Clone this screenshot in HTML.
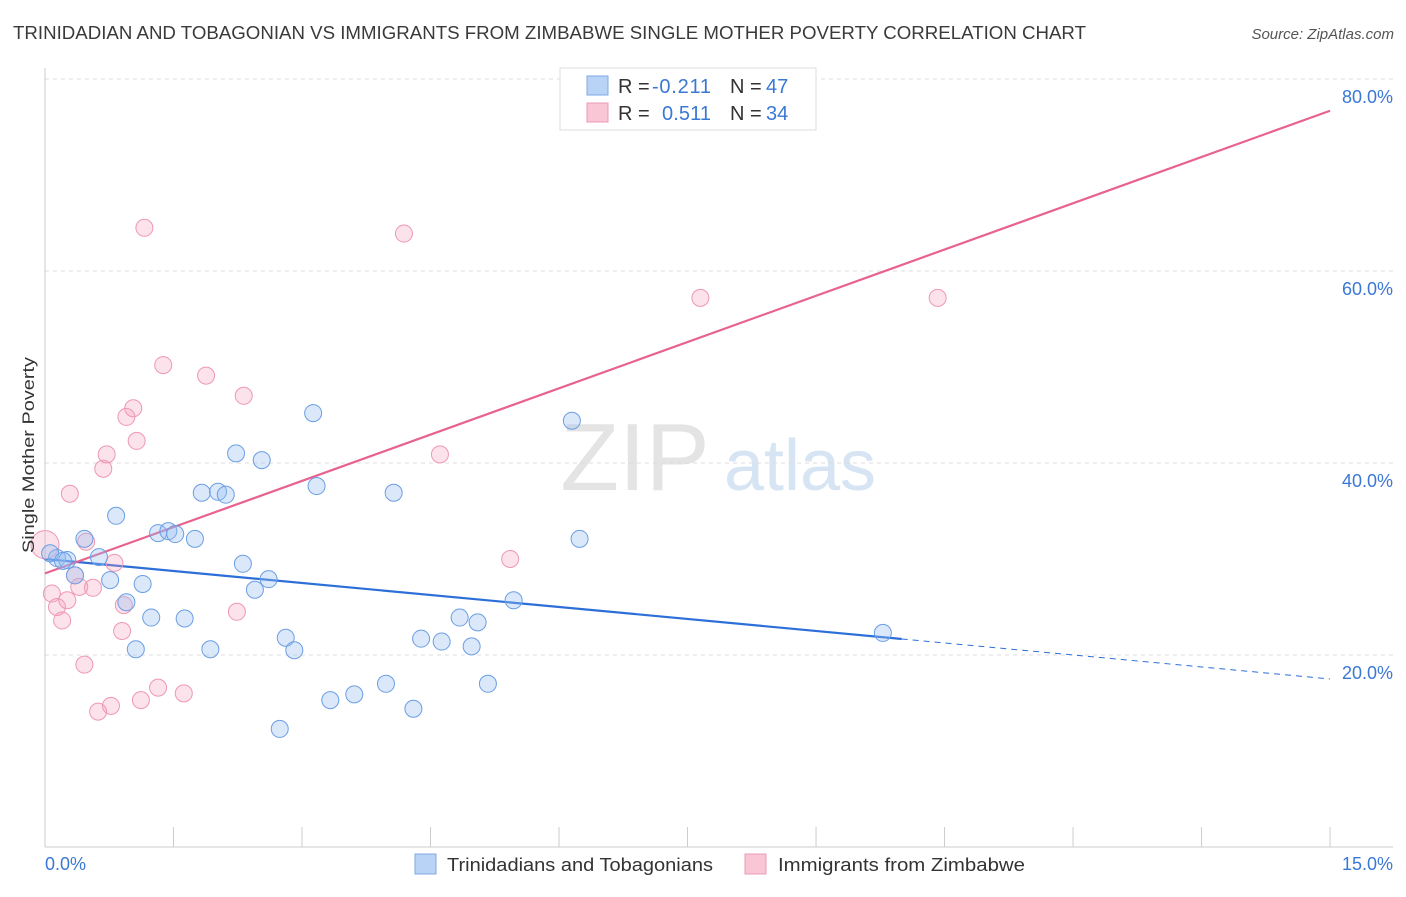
<!DOCTYPE html>
<html><head><meta charset="utf-8">
<style>
body{margin:0;background:#fff;font-family:"Liberation Sans",sans-serif;}
svg text{font-family:"Liberation Sans",sans-serif;}
</style></head>
<body>
<svg id="chart" width="1406" height="892" xmlns="http://www.w3.org/2000/svg">
<text x="13" y="39" font-size="18" fill="#3a3a3a" textLength="1073" lengthAdjust="spacingAndGlyphs">TRINIDADIAN AND TOBAGONIAN VS IMMIGRANTS FROM ZIMBABWE SINGLE MOTHER POVERTY CORRELATION CHART</text>
<text x="1394" y="39" font-size="15" fill="#555" text-anchor="end" font-style="italic">Source: ZipAtlas.com</text>
<g>
<text x="635" y="490" font-size="96" fill="#e4e4e4" text-anchor="middle" font-family="Liberation Serif,serif">ZIP</text>
<text x="800" y="490" font-size="72" fill="#d6e4f3" text-anchor="middle">atlas</text>
</g>
<g id="grid"></g><g id="axes"></g><g id="lines"></g><g id="pts"></g>
<text transform="translate(34,455) rotate(-90)" font-size="17" fill="#333" text-anchor="middle" textLength="196" lengthAdjust="spacingAndGlyphs">Single Mother Poverty</text>
<text x="45" y="870" font-size="18" fill="#3a78d6">0.0%</text>
<text x="1393" y="870" font-size="18" fill="#3a78d6" text-anchor="end">15.0%</text>
<g>
<rect x="560" y="68" width="256" height="62" fill="#fff" stroke="#ddd"/>
<rect x="587" y="76" width="21" height="19" fill="#b8d3f5" stroke="#7fa9e6"/>
<rect x="587" y="103" width="21" height="19" fill="#f8c6d5" stroke="#ee98b2"/>
<text x="618" y="93" font-size="20" fill="#333">R = </text><text x="652" y="93" font-size="20" fill="#3a78d6" textLength="59">-0.211</text>
<text x="730" y="93" font-size="20" fill="#333">N = </text><text x="766" y="93" font-size="20" fill="#3a78d6">47</text>
<text x="618" y="120" font-size="20" fill="#333">R = </text><text x="662" y="120" font-size="20" fill="#3a78d6" textLength="49">0.511</text>
<text x="730" y="120" font-size="20" fill="#333">N = </text><text x="766" y="120" font-size="20" fill="#3a78d6">34</text>
</g>
<g>
<rect x="415" y="854" width="21" height="20" fill="#b8d3f5" stroke="#7fa9e6"/>
<text x="447" y="871" font-size="18" fill="#333" textLength="266" lengthAdjust="spacingAndGlyphs">Trinidadians and Tobagonians</text>
<rect x="745" y="854" width="21" height="20" fill="#f8c6d5" stroke="#ee98b2"/>
<text x="778" y="871" font-size="18" fill="#333" textLength="247" lengthAdjust="spacingAndGlyphs">Immigrants from Zimbabwe</text>
</g>
</svg>
<script>
const yTicks=[20,40,60,80];
const yTickLabels=["20.0%","40.0%","60.0%","80.0%"];
const blueX=[0.14,0.26,0.35,0.46,0.63,0.76,0.83,0.95,1.14,1.24,1.06,1.32,1.44,1.52,1.63,1.75,1.83,1.93,2.02,2.11,2.23,2.31,2.45,2.53,2.61,2.81,2.74,2.91,3.13,3.17,3.33,3.61,3.98,4.07,4.30,4.39,4.63,4.84,4.98,5.05,5.17,5.47,6.15,6.24,9.78,0.06,0.21];
const blueY=[30.1,29.9,28.3,32.1,30.2,27.8,34.5,25.5,27.4,23.9,20.6,32.7,32.9,32.6,23.8,32.1,36.9,20.6,37.0,36.7,41.0,29.5,26.8,40.3,27.9,21.8,12.3,20.5,45.2,37.6,15.3,15.9,17.0,36.9,14.4,21.7,21.4,23.9,20.9,23.4,17.0,25.7,44.4,32.1,22.3,30.6,29.8];
const pinkX=[0,0.08,0.14,0.2,0.26,0.29,0.35,0.4,0.46,0.48,0.56,0.62,0.68,0.72,0.77,0.81,0.9,0.92,0.95,1.03,1.07,1.12,1.16,1.32,1.38,1.62,1.88,2.24,2.32,4.19,4.61,5.43,7.65,10.42];
const pinkY=[31.5,26.4,25.0,23.6,25.7,36.8,28.3,27.1,19.0,31.8,27.0,14.1,39.4,40.9,14.7,29.6,22.5,25.2,44.8,45.7,42.3,15.3,64.5,16.6,50.2,16.0,49.1,24.5,47.0,63.9,40.9,30.0,57.2,57.2];
const blueTrend=[30.0,-0.833,10.0];
const pinkTrend=[28.5,3.213];
const X=v=>45+v*85.67, Y=v=>847-v*9.6;
const NS="http://www.w3.org/2000/svg";
function mk(p,t,a){const e=document.createElementNS(NS,t);for(const k in a)e.setAttribute(k,a[k]);p.appendChild(e);return e;}
const grid=document.getElementById('grid'),axes=document.getElementById('axes'),lines=document.getElementById('lines'),pts=document.getElementById('pts');
yTicks.forEach((t,i)=>{
 const l=mk(grid,'line',{x1:45,x2:1393,y1:Y(t),y2:Y(t),stroke:'#ddd','stroke-dasharray':'4,4'});
 
 
 const tx=mk(grid,'text',{x:1393,y:Y(t)+24,'font-size':18,fill:'#3a78d6','text-anchor':'end'});
 tx.textContent=yTickLabels[i];
 
 
});
const ya=mk(axes,'line',{x1:45,x2:45,y1:68,y2:847,stroke:'#ccc'});


const xa=mk(axes,'line',{x1:45,x2:1393,y1:847,y2:847,stroke:'#ccc'});


for(let i=0;i<=10;i++){const tk=mk(axes,'line',{x1:X(i*1.5),x2:X(i*1.5),y1:827,y2:847,stroke:'#ccc'});
 
 }
const bf=v=>blueTrend[0]+blueTrend[1]*v;
const b1=mk(lines,'line',{x1:X(0),y1:Y(bf(0)),x2:X(blueTrend[2]),y2:Y(bf(blueTrend[2])),stroke:'#2d6fd8','stroke-width':2.2});


const b2=mk(lines,'line',{x1:X(blueTrend[2]),y1:Y(bf(blueTrend[2])),x2:X(15),y2:Y(bf(15)),stroke:'#2d6fd8','stroke-width':1,'stroke-dasharray':'6,5'});


const pf=v=>pinkTrend[0]+pinkTrend[1]*v;
const p1=mk(lines,'line',{x1:X(0),y1:Y(pf(0)),x2:X(15),y2:Y(pf(15)),stroke:'#e8628e','stroke-width':2.2});


pinkX.forEach((x,i)=>{const c=mk(pts,'circle',{cx:X(x),cy:Y(pinkY[i]),r:i==0?14:8.5,fill:'rgba(244,160,188,0.3)',stroke:'#ee98b2','stroke-width':1});
 
 });
blueX.forEach((x,i)=>{const c=mk(pts,'circle',{cx:X(x),cy:Y(blueY[i]),r:8.5,fill:'rgba(150,190,240,0.35)',stroke:'#6b9ee3','stroke-width':1});
 
 });
</script>
</body></html>
